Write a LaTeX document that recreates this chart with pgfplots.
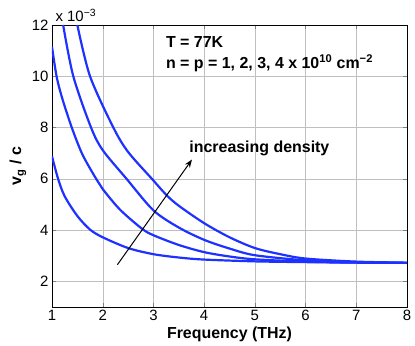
\documentclass[border=0pt]{standalone}
\usepackage{fontspec}
\setmainfont{Liberation Sans}
\usepackage{pgfplots}
\pgfplotsset{compat=1.18}
\usetikzlibrary{arrows.meta}
\definecolor{mblue}{RGB}{30,50,255}
\pgfplotsset{vg/.style={mblue, line width=2.2bp, smooth, tension=0.5, mark=none}}

\begin{document}
\begin{tikzpicture}
\path (-52bp,-38bp) (363bp,307bp);
\begin{axis}[
  name=ax, at={(0,0)}, anchor=south west,
  scale only axis, width=355bp, height=282bp,
  xmin=1, xmax=8, ymin=1, ymax=12,
  xtick={1,...,8}, ytick={2,4,...,12},
  xticklabels={1,2,3,4,5,6,7,8}, yticklabels={2,4,6,8,10,12},
  grid=major,
  tick label style={font=\fontsize{15}{18}\selectfont},
  xlabel={Frequency (THz)}, ylabel={v\textsubscript{g} / c},
  label style={font=\fontsize{16}{19}\selectfont\bfseries},
  xlabel style={at={(axis description cs:0.5,-0.097)}, anchor=center},
  ylabel style={at={(axis description cs:-0.096,0.5)}, anchor=center},
]
% n = p = 1e10
\addplot[vg] coordinates {(1,6.88) (1.12,6.0) (1.25,5.32) (1.5,4.55) (1.75,4.02) (2,3.72)
  (2.5,3.30) (3,3.06) (3.5,2.93) (4,2.85) (5,2.78) (6,2.75) (7,2.73) (8,2.72)};
% n = p = 2e10
\addplot[vg] coordinates {(1,11.15) (1.09,10.0) (1.2,9.15) (1.39,8.0) (1.6,6.95) (1.87,6.0)
  (2,5.6) (2.34,4.8) (2.77,4.06) (3,3.8) (3.5,3.42) (4,3.14) (4.5,2.97) (5,2.86)
  (6,2.77) (7,2.73) (8,2.72)};
% n = p = 3e10
\addplot[vg] coordinates {(1.22,12) (1.42,10) (1.77,8) (2,7.12) (2.47,6.0) (3,4.77) (3.5,4.1)
  (4,3.62) (4.5,3.28) (5,3.02) (6,2.82) (7,2.75) (8,2.72)};
% n = p = 4e10
\addplot[vg] coordinates {(1.5,12) (1.75,10) (2.21,8) (2.5,7.05) (2.97,6.0) (3.26,5.36)
  (3.5,4.95) (4,4.27) (4.5,3.72) (5,3.3) (5.5,3.06) (6,2.89) (7,2.77) (8,2.73)};

\node[anchor=base west, font=\fontsize{16}{19}\selectfont\bfseries]
  at (axis cs:3.18,11.14) {T = 77K};
\node[anchor=base west, font=\fontsize{16}{19}\selectfont\bfseries]
  at (axis cs:3.18,10.31) {n = p = 1, 2, 3, 4 x 10\textsuperscript{10} cm\textsuperscript{−2}};
\node[anchor=base west, font=\fontsize{16}{19}\selectfont\bfseries]
  at (axis cs:3.64,7.01) {increasing density};
\draw[-{Stealth[length=8bp,width=6bp]}, line width=1bp, black]
  (axis cs:2.29,2.65) -- (axis cs:3.76,6.75);
\end{axis}
\node[anchor=base west, font=\fontsize{15}{18}\selectfont, yshift=3bp]
  at (ax.north west) {x 10\textsuperscript{−3}};
\end{tikzpicture}
\end{document}
